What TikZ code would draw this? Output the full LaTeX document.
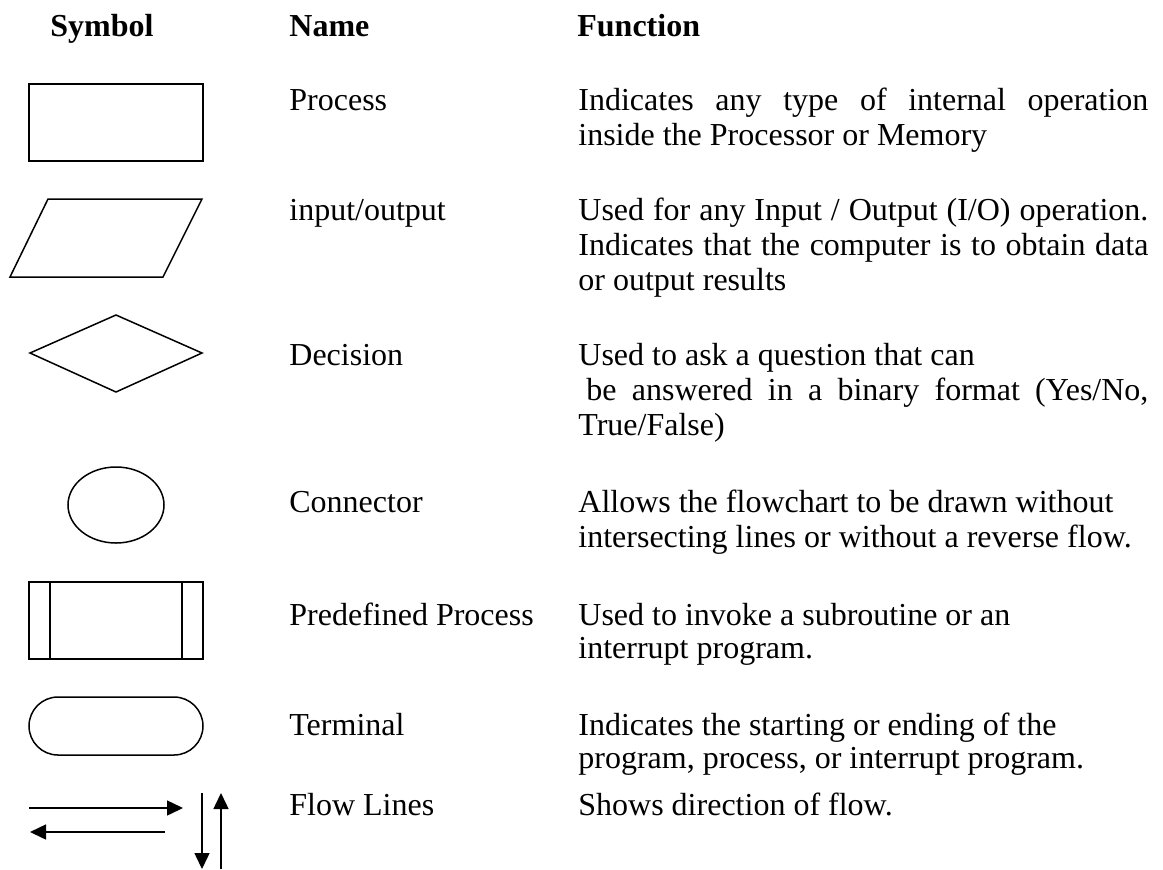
\documentclass[tikz,border=0pt]{standalone}
\usepackage{fontspec}
\setmainfont{Liberation Serif}
\usetikzlibrary{arrows.meta}
\newcommand\jfill[1]{\makebox[285pt][s]{#1}}
\begin{document}
\begin{tikzpicture}[x=0.5pt,y=-0.5pt,
  shp/.style={draw=black,line width=0.75pt},
  arr/.style={draw=black,line width=0.75pt,-{Triangle[length=8pt,width=7.5pt]}},
  txt/.style={anchor=base west,inner sep=0pt,font=\fontsize{16}{17.5}\selectfont},
  hdr/.style={anchor=base west,inner sep=0pt,font=\fontsize{16}{17.5}\selectfont\bfseries}]
\useasboundingbox (0,0) rectangle (1163,869);

% headers
\node[hdr] (hsym) at (50,36) {Symbol};
\node[hdr] (hname) at (289,36) {Name};
\node[hdr] (hfun) at (577,36) {Function};

% symbols
\draw[shp] (29,84) rectangle (203,161);
\draw[shp] (48,199) -- (202,199) -- (163,277) -- (10,277) -- cycle;
\draw[shp] (30,353) -- (116,315) -- (202,353) -- (116,392) -- cycle;
\draw[shp] (116,505) ellipse [x radius=48, y radius=38];
\draw[shp] (29,582) rectangle (203,659);
\draw[shp] (50,582) -- (50,659);
\draw[shp] (182,582) -- (182,659);
\draw[shp,rounded corners=14.5pt] (29,697) rectangle (203,755);

% flow lines
\coordinate (r1) at (29,808);
\coordinate (r2) at (183,808);
\coordinate (l1) at (165,832);
\coordinate (l2) at (30,832);
\coordinate (d1) at (202,793);
\coordinate (d2) at (202,869);
\coordinate (u1) at (221,869);
\coordinate (u2) at (221,793);
\draw[arr] (r1) -- (r2);
\draw[arr] (l1) -- (l2);
\draw[arr] (d1) -- (d2);
\draw[arr] (u1) -- (u2);

% names
\node[txt] (n1) at (289,110) {Process};
\node[txt] (n2) at (289,220) {input/output};
\node[txt] (n3) at (289,365) {Decision};
\node[txt] (n4) at (289,512) {Connector};
\node[txt] (n5) at (289,625) {Predefined Process};
\node[txt] (n6) at (289,735) {Terminal};
\node[txt] (n7) at (289,815) {Flow Lines};

% functions
\node[txt] (f1a) at (578,110) {\jfill{Indicates any type of internal operation}};
\node[txt] (f1b) at (578,145) {inside the Processor or Memory};
\node[txt] (f2a) at (578,220) {\jfill{Used for any Input / Output (I/O) operation.}};
\node[txt] (f2b) at (578,255) {\jfill{Indicates that the computer is to obtain data}};
\node[txt] (f2c) at (578,290) {or output results};
\node[txt] (f3a) at (578,365) {Used to ask a question that can};
\node[txt] (f3b) at (586,400) {\makebox[281pt][s]{be answered in a binary format (Yes/No,}};
\node[txt] (f3c) at (578,435) {True/False)};
\node[txt] (f4a) at (578,512) {Allows the flowchart to be drawn without};
\node[txt] (f4b) at (578,547) {intersecting lines or without a reverse flow.};
\node[txt] (f5a) at (578,625) {Used to invoke a subroutine or an};
\node[txt] (f5b) at (578,658) {interrupt program.};
\node[txt] (f6a) at (578,735) {Indicates the starting or ending of the};
\node[txt] (f6b) at (578,768) {program, process, or interrupt program.};
\node[txt] (f7a) at (578,815) {Shows direction of flow.};
\end{tikzpicture}
\end{document}
